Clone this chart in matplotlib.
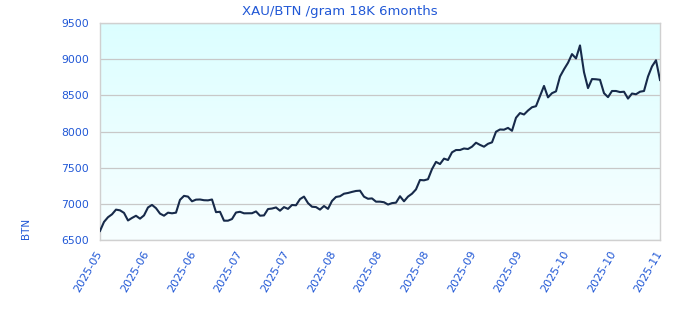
import numpy as np
import matplotlib
matplotlib.use("Agg")
import matplotlib.pyplot as plt
from matplotlib.colors import LinearSegmentedColormap

title = "XAU/BTN /gram 18K 6months"
y_label = "BTN"
x_tick_labels = ["2025-05", "2025-06", "2025-06", "2025-07", "2025-07", "2025-08",
                 "2025-08", "2025-08", "2025-09", "2025-09", "2025-10", "2025-10", "2025-11"]
y_ticks = [6500, 7000, 7500, 8000, 8500, 9000, 9500]

prices = [
    6625, 6750, 6815, 6855, 6920, 6910, 6875, 6770, 6805, 6835,
    6795, 6840, 6950, 6985, 6940, 6865, 6836, 6878, 6869, 6878,
    7055, 7110, 7100, 7035, 7058, 7060, 7050, 7048, 7060, 6885,
    6890, 6767, 6767, 6790, 6880, 6890, 6869, 6869, 6870, 6895,
    6836, 6840, 6928, 6935, 6950, 6905, 6955, 6930, 6984, 6980,
    7065, 7100, 7010, 6960, 6955, 6920, 6970, 6930, 7040, 7095,
    7105, 7140, 7150, 7165, 7178, 7182, 7099, 7070, 7075, 7030,
    7030, 7022, 6990, 7010, 7016, 7105, 7035, 7100, 7140, 7200,
    7330, 7325, 7340, 7480, 7580, 7550, 7625, 7606, 7712, 7744,
    7744, 7765, 7758, 7790, 7845, 7815, 7790, 7830, 7850, 7997,
    8028, 8025, 8050, 8010, 8190, 8255, 8235, 8290, 8335, 8350,
    8490, 8630, 8472, 8530, 8555, 8760, 8860, 8950, 9070, 9010,
    9190, 8820, 8600, 8725, 8722, 8715, 8530, 8475, 8560, 8560,
    8545, 8550, 8455, 8525, 8515, 8550, 8560, 8760, 8900, 8985,
    8712,
]

blue = "#2158d6"
line_color = "#172a4a"

fig = plt.figure(figsize=(6.8, 3.2), dpi=100)
ax = fig.add_axes([100 / 680, 1 - 240 / 320, 560 / 680, 217 / 320])

n = len(prices)
x = np.arange(n)

# background gradient
cmap = LinearSegmentedColormap.from_list("bg", ["#f8ffff", "#dcfeff"])
grad = np.linspace(0, 1, 256).reshape(-1, 1)
ax.imshow(grad, cmap=cmap, aspect="auto", extent=[0, 1, 0, 1],
          transform=ax.transAxes, origin="lower", zorder=0)

ax.plot(x, prices, color=line_color, lw=1.5, zorder=3)

ax.set_xlim(0, n - 1)
ax.set_ylim(6500, 9500)
ax.set_yticks(y_ticks)
ax.set_yticklabels([str(v) for v in y_ticks])
ax.yaxis.grid(True, color="#c8c8c8", lw=0.9, zorder=1)
ax.set_axisbelow(True)

ax.set_xticks(np.linspace(0, n - 1, len(x_tick_labels)))
ax.set_xticklabels(x_tick_labels, rotation=60, ha="right", va="center",
                   rotation_mode="anchor")

ax.tick_params(axis="both", length=0, colors=blue)
ax.tick_params(axis="y", pad=8, labelsize=7.8)
ax.tick_params(axis="x", pad=8, labelsize=8)
for sp in ax.spines.values():
    sp.set_color("#d0d0d0")
    sp.set_linewidth(1)

fig.text(340 / 680, 1 - 11 / 320, title, color=blue, fontsize=9.5,
         ha="center", va="center")
fig.text(26 / 680, 1 - 228 / 320, y_label, color=blue, fontsize=7.5,
         rotation=90, ha="center", va="center")

fig.savefig("out.png", dpi=100)
